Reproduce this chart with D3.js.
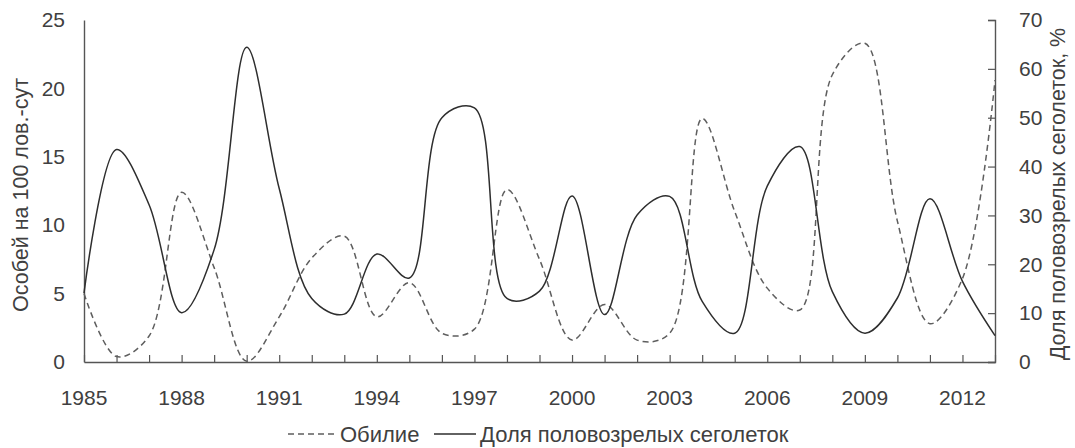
<!DOCTYPE html>
<html>
<head>
<meta charset="utf-8">
<script src="https://cdn.jsdelivr.net/npm/d3@7"></script>
<style>
  html, body { margin: 0; padding: 0; background: #fff; }
  svg { display: block; font-family: "Liberation Sans", Arial, sans-serif; }
</style>
</head>
<body>
<svg id="chart" width="1075" height="448"></svg>
<script>
const years = [1985,1986,1987,1988,1989,1990,1991,1992,1993,1994,1995,1996,1997,1998,1999,
               2000,2001,2002,2003,2004,2005,2006,2007,2008,2009,2010,2011,2012,2013];
const abundance = [5.0,0.4,1.9,12.4,6.9,0.05,3.3,7.6,9.2,3.3,5.8,2.1,2.4,12.6,7.5,
                   1.6,4.2,1.6,2.1,17.8,11.0,5.4,3.8,21.0,23.3,10.3,2.8,6.1,20.6];
const matureShare = [14.1,43.5,32.2,10.1,23,64.4,35.5,13,9.8,22.1,17.2,50,52,13,14.5,
                     34,9.7,30.1,33.9,12.4,5.9,36,44.1,14.4,5.9,13.1,33.4,16.5,5.4];
const xTickLabels = [1985,1988,1991,1994,1997,2000,2003,2006,2009,2012];
const leftTicks = [0,5,10,15,20,25];
const rightTicks = [0,10,20,30,40,50,60,70];
const seriesNames = ["Обилие", "Доля половозрелых сеголеток"];
const leftTitle = "Особей на 100 лов.-сут";
const rightTitle = "Доля половозрелых сеголеток, %";

const svg = d3.select("#chart");
const X0 = 84, X1 = 995, Y0 = 362, Y1 = 20;
const textColor = "#404040", axisColor = "#555";
const fontSize = 21;

const x = d3.scaleLinear().domain([1985, 2013]).range([X0, X1]);
const yL = d3.scaleLinear().domain([0, 25]).range([Y0, Y1]);
const yR = d3.scaleLinear().domain([0, 70]).range([Y0, Y1]);

// X axis
const xAxis = d3.axisBottom(x).tickValues(years).tickSize(-7).tickSizeOuter(0).tickFormat("");
const gx = svg.append("g").attr("transform", `translate(0,${Y0})`).call(xAxis);
gx.select(".domain").attr("stroke", axisColor).attr("stroke-width", 1.4);
gx.selectAll(".tick line").attr("stroke", axisColor).attr("stroke-width", 1.2);

svg.append("g").selectAll("text").data(xTickLabels).join("text")
  .attr("x", d => x(d)).attr("y", 405)
  .attr("text-anchor", "middle").attr("fill", textColor)
  .attr("font-size", fontSize).text(d => d);

// Left axis
const gl = svg.append("g").attr("transform", `translate(${X0},0)`)
  .call(d3.axisLeft(yL).tickValues(leftTicks).tickSize(0).tickPadding(19));
gl.select(".domain").attr("stroke", axisColor).attr("stroke-width", 1.4);
gl.selectAll(".tick text").attr("fill", textColor).attr("font-size", fontSize)
  .attr("font-family", "Liberation Sans, Arial, sans-serif");

// Right axis
const gr = svg.append("g").attr("transform", `translate(${X1},0)`)
  .call(d3.axisRight(yR).tickValues(rightTicks).tickSize(-7).tickPadding(24));
gr.select(".domain").attr("stroke", axisColor).attr("stroke-width", 1.4);
gr.selectAll(".tick line").attr("stroke", axisColor).attr("stroke-width", 1.2);
gr.selectAll(".tick text").attr("fill", textColor).attr("font-size", fontSize)
  .attr("font-family", "Liberation Sans, Arial, sans-serif");

// Axis titles
svg.append("text").attr("transform", `translate(28,${(Y0+Y1)/2 + 4}) rotate(-90)`)
  .attr("text-anchor", "middle").attr("fill", textColor).attr("font-size", 21.5)
  .text(leftTitle);
svg.append("text").attr("transform", `translate(1065,${(Y0+Y1)/2 + 3}) rotate(-90)`)
  .attr("text-anchor", "middle").attr("fill", textColor).attr("font-size", 21.5)
  .text(rightTitle);

// Lines
const curve = d3.curveCatmullRom.alpha(0.5);
const lineL = d3.line().x((d, i) => x(years[i])).y(d => yL(d)).curve(curve);
const lineR = d3.line().x((d, i) => x(years[i])).y(d => yR(d)).curve(curve);

svg.append("path").datum(abundance).attr("d", lineL)
  .attr("fill", "none").attr("stroke", "#5e5e5e").attr("stroke-width", 1.5)
  .attr("stroke-dasharray", "6,4");
svg.append("path").datum(matureShare).attr("d", lineR)
  .attr("fill", "none").attr("stroke", "#2e2e2e").attr("stroke-width", 1.5);

// Legend
const lg = svg.append("g");
const ly = 434;
lg.append("line").attr("x1", 288).attr("x2", 336).attr("y1", ly).attr("y2", ly)
  .attr("stroke", "#5e5e5e").attr("stroke-width", 1.5).attr("stroke-dasharray", "6,4");
lg.append("text").attr("x", 340).attr("y", ly + 7.5).attr("fill", textColor)
  .attr("font-size", 22).text(seriesNames[0]);
lg.append("line").attr("x1", 434).attr("x2", 476).attr("y1", ly).attr("y2", ly)
  .attr("stroke", "#2e2e2e").attr("stroke-width", 1.5);
lg.append("text").attr("x", 480).attr("y", ly + 7.5).attr("fill", textColor)
  .attr("font-size", 22).text(seriesNames[1]);
</script>
</body>
</html>
